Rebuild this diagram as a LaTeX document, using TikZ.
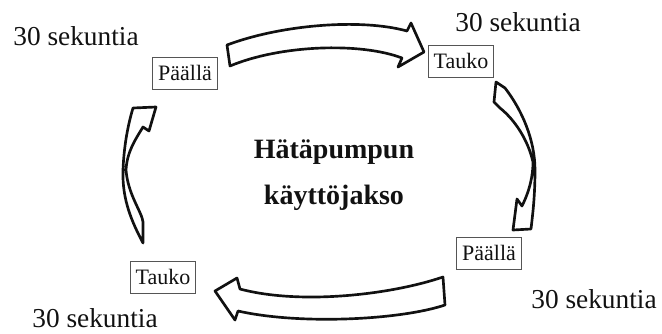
\documentclass[tikz,border=0pt]{standalone}
\usepackage{fontspec}
\setmainfont{Liberation Serif}
\usetikzlibrary{positioning}
\definecolor{ink}{HTML}{111111}
\definecolor{frame}{HTML}{555555}
\tikzset{
  every node/.style={text=ink},
  secs/.style={font=\fontsize{20.5}{23}\selectfont},
  phasebox/.style={draw=frame,line width=.7pt,font=\fontsize{16.5}{19}\selectfont,
    inner sep=1.5pt,minimum width=49pt,minimum height=24pt},
  cycletitle/.style={font=\bfseries\fontsize{21}{34}\selectfont,align=center},
  blockarrow/.style={draw=ink,fill=white,line width=2pt,line join=round}
}

\begin{document}
\begin{tikzpicture}[x=.75pt,y=-.75pt]
  \useasboundingbox (0,0) rectangle (662,333);

  % Phase boxes and their durations.
  \node[phasebox] (onA) at (185,73) {Päällä};
  \node[phasebox] (offA) at (461,61) {Tauko};
  \node[phasebox] (onB) at (489,253) {Päällä};
  \node[phasebox] (offB) at (163,277) {Tauko};
  \node[secs] (secA) at (76,36) {30 sekuntia};
  \node[secs] (secB) at (518,22) {30 sekuntia};
  \node[secs] (secC) at (594,299) {30 sekuntia};
  \node[secs] (secD) at (95,318) {30 sekuntia};

  % Title in the middle of the cycle.
  \node[cycletitle] (title) at (334,175) {Hätäpumpun\\käyttöjakso};

  % Hand-drawn block arrows, clockwise.
  \draw[blockarrow] (227,45) .. controls (280,25) and (360,18) .. (407,31)
    -- (411,23) -- (424,52) -- (398,67) -- (402,58)
    .. controls (360,42) and (280,45) .. (230,66) -- cycle;
  \draw[blockarrow] (496,82) -- (505,88) .. controls (522,110) and (535,140) .. (535,170)
    .. controls (535,195) and (533,212) .. (531,229) -- (513,230) -- (517,199) -- (522,206)
    .. controls (530,190) and (533,175) .. (533,162)
    .. controls (528,140) and (515,120) .. (500,108) -- (494,102) -- cycle;
  \draw[blockarrow] (443,277) .. controls (390,295) and (300,305) .. (240,289)
    -- (237,278) -- (215,291) -- (235,320) -- (238,311)
    .. controls (300,325) and (400,320) .. (445,305) -- cycle;
  \draw[blockarrow] (133,108) -- (156,107) -- (149,131) -- (143,127)
    .. controls (135,140) and (127,152) .. (126,170)
    .. controls (128,195) and (142,212) .. (143,222) -- (143,243)
    .. controls (132,222) and (122,200) .. (123,170)
    .. controls (124,145) and (128,125) .. (133,108) -- cycle;
\end{tikzpicture}
\end{document}
